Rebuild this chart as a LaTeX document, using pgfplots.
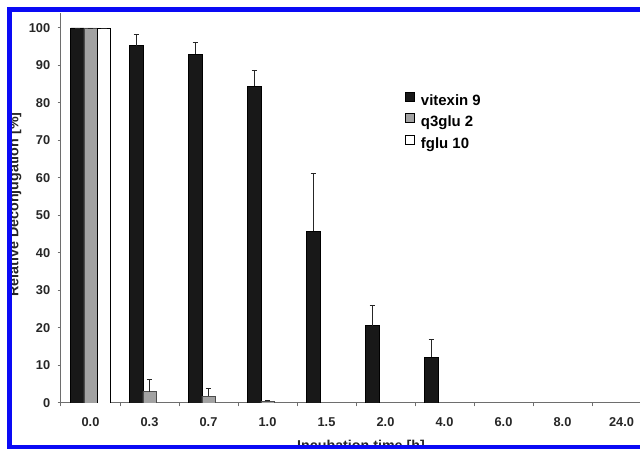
\documentclass[border=0pt]{standalone}
\usepackage{fontspec}
\setmainfont{Liberation Sans}
\usepackage{pgfplots}
\usepackage{pgfplotstable}
\pgfplotsset{compat=1.18}
\definecolor{frameblue}{RGB}{10,10,245}
\definecolor{barblack}{RGB}{24,24,24}
\definecolor{bargray}{RGB}{162,162,162}
\definecolor{axgray}{RGB}{110,110,110}

\pgfplotstableread{
x y e
0 100 0
1 95.3 3.0
2 93.0 3.2
3 84.5 4.2
4 45.8 15.3
5 20.6 5.5
6 12.2 4.7
}\vitexin
\pgfplotstableread{
x y e
0 100 0
1 3.0 3.3
2 1.8 2.0
3 0.4 0.3
}\qglu
\pgfplotstableread{
x y e
0 100 0
}\fglu

\begin{document}
\begin{tikzpicture}
\useasboundingbox (0,0) rectangle (480pt,336.75pt);
\clip (0,0) rectangle (480pt,336.75pt);
\begin{axis}[
  at={(45.75pt,34.5pt)}, anchor=south west,
  scale only axis, width=442.5pt, height=292.5pt,
  xmin=-0.5, xmax=9.5, ymin=0, ymax=104,
  axis x line*=bottom, axis y line*=left,
  axis line style={draw=axgray, line width=0.75pt},
  ytick={0,10,...,100},
  xtick={-0.5,0.5,...,9.5},
  x tick label as interval,
  xticklabels={0.0,0.3,0.7,1.0,1.5,2.0,4.0,6.0,8.0,24.0},
  tick align=outside,
  major tick length=2.6pt,
  tick style={draw=axgray, line width=0.75pt},
  /pgf/number format/assume math mode=true,
  tick label style={font=\bfseries\fontsize{9.6}{11}\selectfont, text=black!85},
  xticklabel style={yshift=-5pt},
  yticklabel style={xshift=-2pt},
  ybar=0pt, bar width=9.9pt,
  legend style={at={(0.583,0.798)}, anchor=north west, draw=none, fill=none,
    inner sep=0pt, row sep=3.6pt, column sep=5pt,
    font=\bfseries\fontsize{11.2}{12}\selectfont,
    nodes={inner sep=0pt, text height=7.7pt, text depth=2.2pt}},
  legend cell align=left,
  sqleg/.style={legend image code/.code={\draw[##1,draw=black,line width=0.6pt] (0pt,0.3pt) rectangle (6.2pt,7.1pt);}},
  error bars/y dir=plus, error bars/y explicit,
  error bars/error bar style={line width=0.6pt, draw=black!85},
  error bars/error mark options={rotate=90, mark size=2.1pt, line width=0.6pt, draw=black!85},
]
\addplot[sqleg, fill=barblack, draw=black, line width=0.5pt] table[x=x, y=y, y error=e] {\vitexin};
\addlegendentry{vitexin 9}
\addplot[sqleg, fill=bargray, draw=black!70, line width=0.5pt] table[x=x, y=y, y error=e] {\qglu};
\addlegendentry{q3glu 2}
\addplot[sqleg, fill=white, draw=black, line width=0.5pt] table[x=x, y=y, y error=e] {\fglu};
\addlegendentry{fglu 10}
\end{axis}
\node[rotate=90, anchor=base, font=\bfseries\fontsize{10.7}{12}\selectfont, text=black!85] at (13.7pt,183.4pt) {Relative Deconjugation [\%]};
\node[anchor=base, font=\bfseries\fontsize{10.7}{12}\selectfont, text=black!85] at (270.75pt,-0.9pt) {Incubation time [h]};
\draw[frameblue, line width=3.5pt] (490pt,1.2pt) -- (7.3pt,1.2pt) -- (7.3pt,329.4pt) -- (490pt,329.4pt);
\end{tikzpicture}
\end{document}
